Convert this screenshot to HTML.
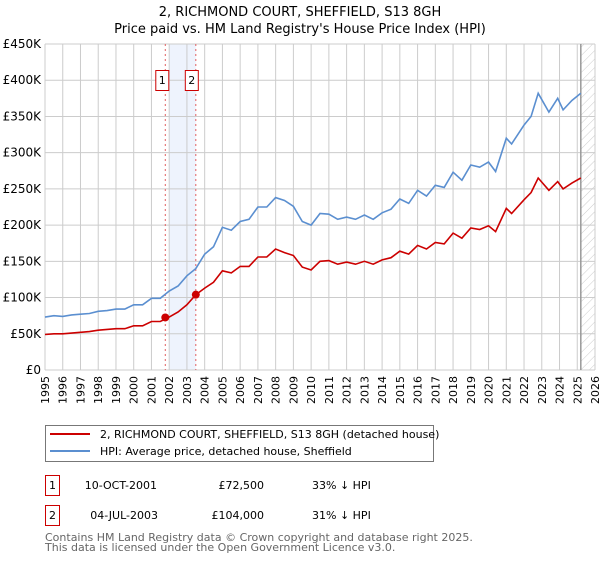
<!DOCTYPE html>
<html><head><meta charset="utf-8"><style>
body{margin:0;background:#fff;font-family:"Liberation Sans","DejaVu Sans",sans-serif;}
svg text{font-family:"DejaVu Sans","Liberation Sans",sans-serif;}
</style></head><body>
<svg id="chart" width="600" height="560" xmlns="http://www.w3.org/2000/svg">
<defs><pattern id="hatch" width="6" height="6" patternUnits="userSpaceOnUse" patternTransform="rotate(45)"><line x1="0" y1="0" x2="0" y2="6" stroke="#ccc" stroke-width="1"/></pattern></defs>
<text x="300" y="16" font-size="13" text-anchor="middle" fill="#000">2, RICHMOND COURT, SHEFFIELD, S13 8GH</text>
<text x="300" y="33" font-size="13" text-anchor="middle" fill="#000">Price paid vs. HM Land Registry's House Price Index (HPI)</text>
<g id="grid"></g><g id="marks"></g><g id="axes"></g>
<rect x="45.5" y="425.5" width="388" height="36" fill="#fff" stroke="#777"/>
<line x1="50" y1="434" x2="90" y2="434" stroke="#cc0000" stroke-width="2"/>
<text x="100" y="438" font-size="11">2, RICHMOND COURT, SHEFFIELD, S13 8GH (detached house)</text>
<line x1="50" y1="451" x2="90" y2="451" stroke="#5b8fd0" stroke-width="2"/>
<text x="100" y="455" font-size="11">HPI: Average price, detached house, Sheffield</text>
<rect x="45.5" y="475.5" width="14" height="20" fill="#fff" stroke="#cc0000"/>
<text x="52.5" y="489" font-size="11" text-anchor="middle">1</text>
<text x="157" y="489" font-size="11" text-anchor="end">10-OCT-2001</text>
<text x="264" y="489" font-size="11" text-anchor="end">£72,500</text>
<text x="312" y="489" font-size="11">33% ↓ HPI</text>
<rect x="45.5" y="505.5" width="14" height="20" fill="#fff" stroke="#cc0000"/>
<text x="52.5" y="519" font-size="11" text-anchor="middle">2</text>
<text x="158" y="519" font-size="11" text-anchor="end">04-JUL-2003</text>
<text x="264" y="519" font-size="11" text-anchor="end">£104,000</text>
<text x="312" y="519" font-size="11">31% ↓ HPI</text>
<text x="45" y="541" font-size="11" fill="#666">Contains HM Land Registry data © Crown copyright and database right 2025.</text>
<text x="45" y="551" font-size="11" fill="#666">This data is licensed under the Open Government Licence v3.0.</text>
</svg>
<script>
const yearTicks=[1995,1996,1997,1998,1999,2000,2001,2002,2003,2004,2005,2006,2007,2008,2009,2010,2011,2012,2013,2014,2015,2016,2017,2018,2019,2020,2021,2022,2023,2024,2025,2026];
const priceTicks=[0,50000,100000,150000,200000,250000,300000,350000,400000,450000];
const priceLabels=["£0","£50K","£100K","£150K","£200K","£250K","£300K","£350K","£400K","£450K"];
const times=[1995,1995.5,1996,1996.5,1997,1997.5,1998,1998.5,1999,1999.5,2000,2000.5,2001,2001.5,2002,2002.5,2003,2003.5,2004,2004.5,2005,2005.5,2006,2006.5,2007,2007.5,2008,2008.5,2009,2009.5,2010,2010.5,2011,2011.5,2012,2012.5,2013,2013.5,2014,2014.5,2015,2015.5,2016,2016.5,2017,2017.5,2018,2018.5,2019,2019.5,2020,2020.4,2021,2021.3,2022,2022.4,2022.8,2023.4,2023.9,2024.2,2024.7,2025.2];
const hpiValues=[73000,75000,74000,76000,77000,78000,81000,82000,84000,84000,90000,90000,99000,99000,109000,116000,130000,140000,160000,170000,197000,193000,205000,208000,225000,225000,238000,234000,226000,205000,200000,216000,215000,208000,211000,208000,214000,208000,217000,222000,236000,230000,248000,240000,255000,252000,273000,262000,283000,280000,287000,274000,320000,312000,338000,350000,382000,356000,375000,359000,372000,382000];
const paidValues=[49000,50000,50000,51000,52000,53000,55000,56000,57000,57000,61000,61000,67000,67000,73000,80000,90000,104000,113000,121000,137000,134000,143000,143000,156000,156000,167000,162000,158000,142000,138000,150000,151000,146000,149000,146000,150000,146000,152000,155000,164000,160000,172000,167000,176000,174000,189000,182000,196000,194000,199000,191000,223000,216000,235000,245000,265000,248000,260000,250000,258000,265000];
const saleTimes=[2001.78,2003.5];
const salePrices=[72500,104000];
const saleLabels=["1","2"];
const X0=45,X1=595,Y0=370,Y1=44;
const xs=t=>X0+(t-1995)/(2026-1995)*(X1-X0);
const ys=v=>Y0-v/450000*(Y0-Y1);
const NS="http://www.w3.org/2000/svg";
function mk(tag,attrs,parent){const e=document.createElementNS(NS,tag);for(const k in attrs)e.setAttribute(k,attrs[k]);parent.appendChild(e);return e;}
const grid=document.getElementById('grid'),marks=document.getElementById('marks'),axes=document.getElementById('axes');
// shading between sales
const sh=mk('rect',{x:xs(2002),y:Y1,width:xs(saleTimes[1])-xs(2002),height:Y0-Y1,fill:'#eef3fd'},grid);


// hatch future
const hz=mk('rect',{x:xs(2025.2),y:Y1,width:X1-xs(2025.2),height:Y0-Y1,fill:'url(#hatch)'},grid);


yearTicks.forEach(t=>{
  const l=mk('line',{x1:xs(t),x2:xs(t),y1:Y1,y2:Y0,stroke:'#ccc','stroke-width':1},grid);
  
  
  const tx=mk('text',{x:0,y:0,'font-size':11,'text-anchor':'end',transform:`translate(${xs(t)+4},${Y0+6}) rotate(-90)`},axes);
  tx.textContent=t;
  
  
});
priceTicks.forEach((v,i)=>{
  const l=mk('line',{x1:X0,x2:X1,y1:ys(v),y2:ys(v),stroke:'#ccc','stroke-width':1},grid);
  
  
  const tx=mk('text',{x:X0-4,y:ys(v)+4,'font-size':12,'text-anchor':'end'},axes);
  tx.textContent=priceLabels[i];
  
  
});
const endL=mk('line',{x1:xs(2025.2),x2:xs(2025.2),y1:Y1,y2:Y0,stroke:'#999','stroke-width':1.5},grid);


saleTimes.forEach((t,i)=>{
  const l=mk('line',{x1:xs(t),x2:xs(t),y1:Y1,y2:Y0,stroke:'#e06060','stroke-dasharray':'2,3','stroke-width':1},marks);
  
  
  const b=mk('rect',{x:xs(t)-20+ (i?-3:7)+ (i?0:-0),y:70.5,width:13,height:20,fill:'#fff',stroke:'#cc0000'},marks);
  b.setAttribute('x',i?xs(t)-10.5:xs(t)-9.5);
  
  
  const tx=mk('text',{x:+b.getAttribute('x')+6.5,y:84,'font-size':11,'text-anchor':'middle'},marks);
  tx.textContent=saleLabels[i];
  
  
});
const pts=a=>a.map((v,i)=>xs(times[i]).toFixed(1)+','+ys(v).toFixed(1)).join(' ');
const hl=mk('polyline',{points:pts(hpiValues),fill:'none',stroke:'#5b8fd0','stroke-width':1.6},marks);


const pl=mk('polyline',{points:pts(paidValues),fill:'none',stroke:'#cc0000','stroke-width':1.6},marks);


saleTimes.forEach((t,i)=>{
  const c=mk('circle',{cx:xs(t),cy:ys(salePrices[i]),r:4,fill:'#cc0000'},marks);
  
  
});
</script>
</body></html>
